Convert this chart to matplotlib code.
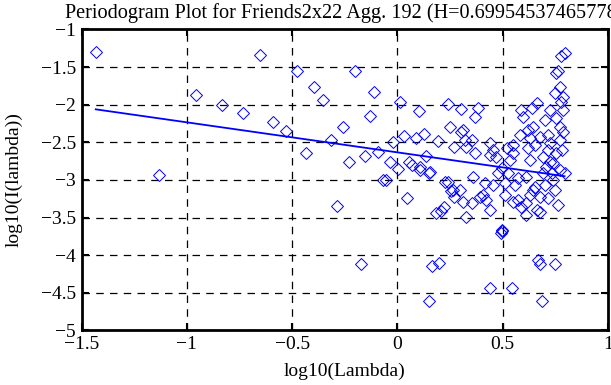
import matplotlib
matplotlib.use("Agg")
import matplotlib.pyplot as plt

# periodogram points (log10 lambda, log10 I)
log_lambda = [
    -1.433, -1.133, -0.957, -0.832, -0.735, -0.655, -0.590, -0.530, -0.479, -0.436,
    -0.394, -0.354, -0.314,
    -0.202, -0.111, -0.131, -0.258, -0.229, -0.155, -0.092, -0.021, 0.014, 0.030,
    -0.037, 0.002, 0.054, 0.071, 0.102, 0.087, 0.124, 0.138, 0.106, 0.157, 0.193,
    0.240, 0.301, 0.248, 0.267, 0.303, 0.319, -0.068, -0.052, -0.289, 0.044,
    -0.175, 0.152, 0.164, 0.199, 0.183, 0.207, 0.223, 0.228, 0.255, 0.271,
    0.310, 0.152, 0.327, 0.106, 0.240, 0.264, 0.359, 0.406,
    0.794, 0.779, 0.763, 0.752, 0.771, 0.747, 0.787, 0.779, 0.787, 0.724,
    0.661, 0.637, 0.589, 0.597, 0.700, 0.755, 0.771, 0.787, 0.771, 0.644,
    0.621, 0.629, 0.676, 0.715, 0.724, 0.653, 0.621, 0.550, 0.550, 0.519,
    0.455, 0.438, 0.368, 0.328, 0.312, 0.383, 0.368, 0.629, 0.692, 0.724,
    0.708, 0.740, 0.755, 0.771, 0.794, 0.692, 0.732, 0.479, 0.527, 0.496,
    0.469, 0.352, 0.612, 0.740, 0.414, 0.390, 0.422, 0.352, 0.455, 0.510,
    0.557, 0.573, 0.550, 0.612, 0.589, 0.612, 0.661, 0.676, 0.644, 0.676,
    0.715, 0.763, 0.653, 0.496, 0.499, 0.493, 0.676, 0.747, 0.668, 0.441,
    0.546, 0.688, 0.438, 0.533, 0.571, 0.700, 0.629, 0.747, 0.780, 0.715,
    0.584, 0.510, 0.295, 0.438,
]
log_I = [
    -1.295, -2.931, -1.867, -2.000, -2.111, -1.335, -2.226, -2.346, -1.548, -2.643,
    -1.765, -1.934, -2.470,
    -1.552, -1.835, -2.150, -2.301, -2.766, -2.682, -2.625, -2.492, -1.968, -2.416,
    -2.766, -2.859, -2.758, -2.802, -2.080, -2.447, -2.390, -2.682, -2.825, -2.891, -2.483,
    -1.991, -2.061, -2.301, -2.559, -2.359, -2.470, -3.002, -3.002, -3.347, -3.245,
    -4.110, -4.607, -4.141, -4.102, -3.445, -3.410, -3.365, -3.032, -3.144, -3.224,
    -3.290, -2.905, -3.490, -2.869, -3.024, -3.135, -2.958, -3.201,
    -1.309, -1.352, -1.548, -1.579, -1.761, -1.841, -1.894, -1.960, -2.071, -2.071,
    -1.974, -2.048, -2.071, -2.160, -2.204, -2.181, -2.293, -2.359, -2.470, -2.293,
    -2.337, -2.447, -2.426, -2.403, -2.514, -2.536, -2.580, -2.536, -2.647, -2.580,
    -2.603, -2.669, -2.647, -2.559, -2.337, -2.048, -2.160, -2.736, -2.692, -2.758,
    -2.825, -2.780, -2.647, -2.869, -2.913, -2.913, -2.913, -2.913, -2.913, -2.846,
    -2.692, -2.470, -2.958, -3.002, -3.046, -3.224, -3.268, -3.312, -3.068, -3.046,
    -3.068, -3.268, -3.290, -3.312, -3.357, -3.467, -3.401, -3.423, -3.135, -3.224,
    -3.245, -3.334, -3.091, -3.660, -3.680, -3.700, -4.110, -4.110, -4.066, -4.429,
    -4.429, -4.607, -2.514, -2.736, -2.975, -3.068, -3.201, -3.135, -2.603, -2.603,
    -2.403, -3.201, -3.135, -3.401,
]

# least squares fit shown in the reference
fit_slope = -0.3991
fit_intercept = -2.633
hurst = 0.69954537465778

xticks = [-1.5, -1, -0.5, 0, 0.5, 1]
yticks = [-5, -4.5, -4, -3.5, -3, -2.5, -2, -1.5, -1]

plt.rcParams['font.family'] = ['Liberation Serif', 'DejaVu Serif']
plt.rcParams['font.size'] = 14

fig = plt.figure(figsize=(6.11, 3.85), dpi=100)
ax = fig.add_axes([0.1336, 0.1416, 0.8614, 0.7818])

ax.plot(log_lambda, log_I, 'D', ms=6.5, mfc='none', mec='blue', mew=0.7)
x_ends = [min(log_lambda), max(log_lambda)]
ax.plot(x_ends, [fit_intercept + fit_slope * v for v in x_ends], '-', color='blue', lw=1.3)

ax.set_xlim(-1.5, 1)
ax.set_ylim(-5, -1)
ax.set_xticks(xticks)
ax.set_yticks(yticks)
ax.set_xticklabels(['\u22121.5', '\u22121', '\u22120.5', '0', '0.5', '1'])
ax.set_yticklabels(['\u22125', '\u22124.5', '\u22124', '\u22123.5', '\u22123',
                    '\u22122.5', '\u22122', '\u22121.5', '\u22121'])
ax.grid(True, color='black', linestyle=(0, (6, 5)), linewidth=0.9)
ax.tick_params(direction='in', length=5, width=1.5, top=True, right=True, pad=4)
for s in ax.spines.values():
    s.set_linewidth(2)

ax.set_xlabel('log10(Lambda)', labelpad=7)
ax.set_ylabel('log10(I(lambda))', labelpad=13)

fig.text(65 / 611, 1 - 18 / 385,
         'Periodogram Plot for Friends2x22 Agg. 192 (H=%s)' % repr(hurst),
         ha='left', va='baseline', fontsize=14.6)

fig.savefig('out.png', dpi=100)
